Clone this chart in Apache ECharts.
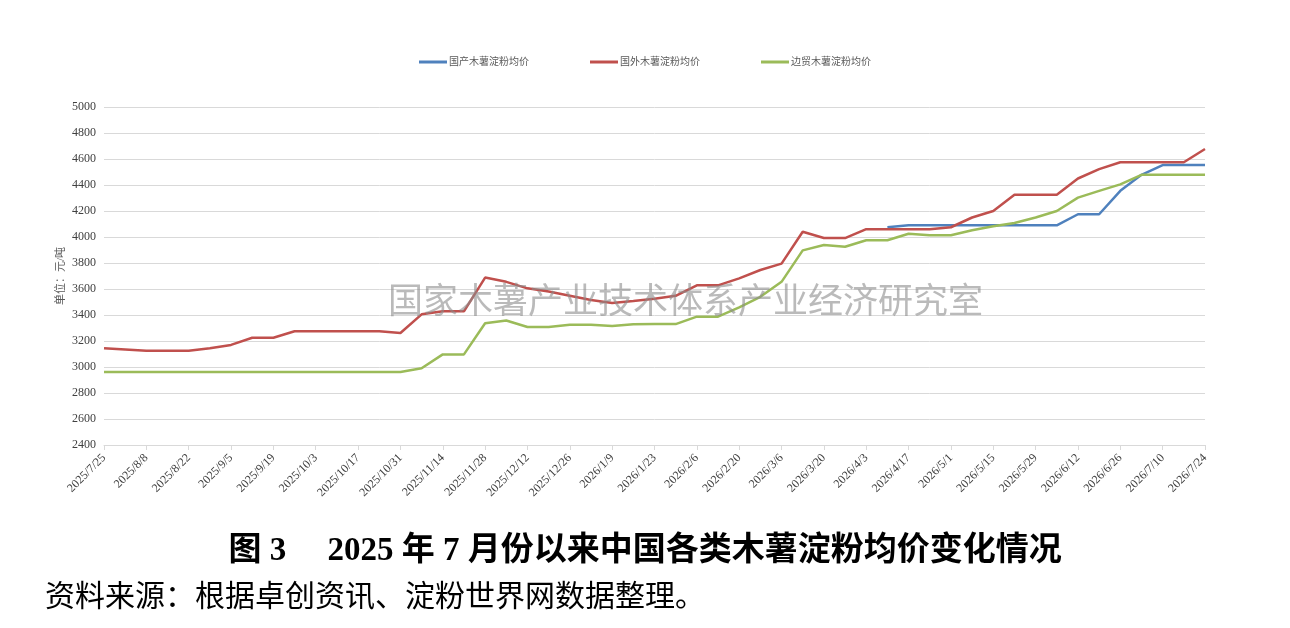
<!DOCTYPE html>
<html>
<head>
<meta charset="utf-8">
<script src="https://cdn.jsdelivr.net/npm/echarts@6/dist/echarts.min.js"></script>
<style>
  html, body { margin: 0; padding: 0; background: #fff; }
  #main { width: 1290px; height: 628px; }
</style>
</head>
<body>
<div id="main"></div>
<script>
// weekly dates, 2025/7/25 .. 2026/7/24
const dates = [
  '2025/7/25', '2025/8/1', '2025/8/8', '2025/8/15', '2025/8/22', '2025/8/29', '2025/9/5', '2025/9/12',
  '2025/9/19', '2025/9/26', '2025/10/3', '2025/10/10', '2025/10/17', '2025/10/24', '2025/10/31', '2025/11/7',
  '2025/11/14', '2025/11/21', '2025/11/28', '2025/12/5', '2025/12/12', '2025/12/19', '2025/12/26', '2026/1/2',
  '2026/1/9', '2026/1/16', '2026/1/23', '2026/1/30', '2026/2/6', '2026/2/13', '2026/2/20', '2026/2/27',
  '2026/3/6', '2026/3/13', '2026/3/20', '2026/3/27', '2026/4/3', '2026/4/10', '2026/4/17', '2026/4/24',
  '2026/5/1', '2026/5/8', '2026/5/15', '2026/5/22', '2026/5/29', '2026/6/5', '2026/6/12', '2026/6/19',
  '2026/6/26', '2026/7/3', '2026/7/10', '2026/7/17', '2026/7/24'
]

// 国产木薯淀粉均价 (starts mid April)
const domestic = [
  null, null, null, null, null, null, null, null, null, null,
  null, null, null, null, null, null, null, null, null, null,
  null, null, null, null, null, null, null, null, null, null,
  null, null, null, null, null, null, null, 4075, 4090, 4090,
  4090, 4090, 4090, 4090, 4090, 4090, 4175, 4175, 4355, 4478,
  4553, 4553, 4553
]

// 国外木薯淀粉均价
const imported = [
  3145, 3135, 3125, 3125, 3125, 3145, 3170, 3225, 3225, 3275,
  3275, 3275, 3275, 3275, 3262, 3405, 3428, 3428, 3688, 3655,
  3605, 3580, 3548, 3515, 3492, 3508, 3525, 3548, 3628, 3628,
  3682, 3746, 3795, 4040, 3992, 3992, 4060, 4060, 4060, 4060,
  4075, 4150, 4200, 4325, 4325, 4325, 4450, 4522, 4575, 4575,
  4575, 4575, 4677
]

// 边贸木薯淀粉均价
const border = [
  2962, 2962, 2962, 2962, 2962, 2962, 2962, 2962, 2962, 2962,
  2962, 2962, 2962, 2962, 2962, 2990, 3097, 3097, 3337, 3358,
  3308, 3308, 3325, 3325, 3315, 3328, 3330, 3330, 3387, 3387,
  3458, 3540, 3655, 3897, 3938, 3925, 3975, 3975, 4025, 4013,
  4013, 4052, 4083, 4108, 4150, 4200, 4303, 4355, 4405, 4478,
  4478, 4478, 4478
]

const seriesNames = ['国产木薯淀粉均价', '国外木薯淀粉均价', '边贸木薯淀粉均价']
const colors = ['#4F81BD', '#C0504D', '#9BBB59']

const serif = "'Liberation Serif', 'Noto Sans CJK SC', serif"

var myChart = echarts.init(document.getElementById('main'))
myChart.setOption({
  animation: false,
  color: colors,
  title: [
    {
      text: '图 3　 2025 年 7 月份以来中国各类木薯淀粉均价变化情况',
      left: 'center',
      top: 530,
      textStyle: { fontFamily: serif, fontSize: 33, fontWeight: 'bold', color: '#000' }
    },
    {
      text: '资料来源：根据卓创资讯、淀粉世界网数据整理。',
      left: 40,
      top: 578,
      textStyle: { fontFamily: serif, fontSize: 30, fontWeight: 'normal', color: '#000' }
    }
  ],
  legend: {
    top: 52,
    left: 414,
    itemWidth: 28,
    itemHeight: 3,
    itemGap: 61,
    icon: 'rect',
    textStyle: { fontFamily: serif, fontSize: 10, color: '#595959', padding: [0, 0, 0, -3] },
    data: seriesNames
  },
  grid: { left: 104, right: 85, top: 107, bottom: 183 },
  graphic: [{
    type: 'text',
    left: 388,
    top: 282,
    z: 10,
    style: {
      text: '国家木薯产业技术体系产业经济研究室',
      font: "35px 'Noto Sans CJK SC', sans-serif",
      fill: 'rgba(140,140,140,0.6)'
    }
  }],
  xAxis: {
    type: 'category',
    data: dates,
    boundaryGap: false,
    axisLine: { lineStyle: { color: '#d9d9d9' } },
    axisTick: { interval: 1, lineStyle: { color: '#d9d9d9' } },
    axisLabel: {
      interval: 1,
      rotate: 45,
      margin: 11,
      fontFamily: serif,
      fontSize: 12,
      color: '#404040'
    }
  },
  yAxis: {
    type: 'value',
    min: 2400,
    max: 5000,
    interval: 200,
    name: '单位：元/吨',
    nameLocation: 'middle',
    nameGap: 37,
    nameMoveOverlap: false,
    nameTextStyle: { fontFamily: serif, fontSize: 11, color: '#595959' },
    axisLine: { show: false },
    axisTick: { show: false },
    axisLabel: {
      fontFamily: serif,
      fontSize: 12,
      color: '#404040',
      margin: 8,
      formatter: v => String(v)
    },
    splitLine: { lineStyle: { color: '#d9d9d9' } }
  },
  series: [
    { name: seriesNames[0], type: 'line', data: domestic, symbol: 'none', lineStyle: { width: 2.5 } },
    { name: seriesNames[1], type: 'line', data: imported, symbol: 'none', lineStyle: { width: 2.5 } },
    { name: seriesNames[2], type: 'line', data: border, symbol: 'none', lineStyle: { width: 2.5 } }
  ]
})
</script>
</body>
</html>
